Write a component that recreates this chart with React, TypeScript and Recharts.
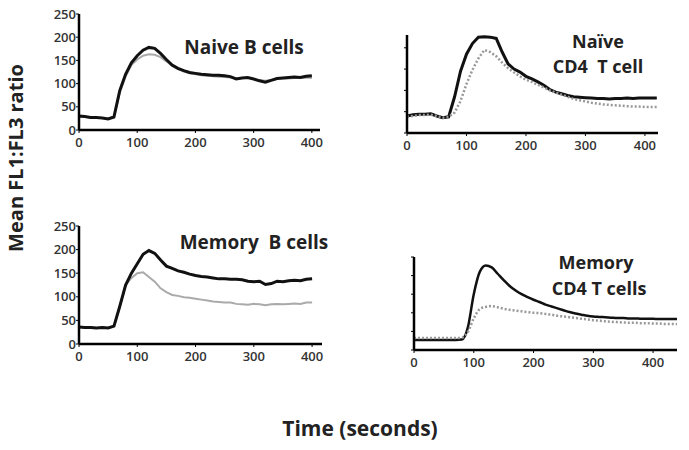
import { CartesianGrid, Line, LineChart, XAxis, YAxis } from "recharts";

// time points (seconds)
const times400 = [
  0, 10, 20, 30, 40, 50, 60, 70, 80, 90, 100, 110, 120, 130, 140, 150, 160, 170, 180, 190, 200,
  210, 220, 230, 240, 250, 260, 270, 280, 290, 300, 310, 320, 330, 340, 350, 360, 370, 380, 390, 400,
];
const times420 = [...times400, 410, 420];
const times440 = [...times420, 430, 440];

// Naive B cells
const naiveBDark = [
  30, 29, 27, 27, 26, 24, 28, 85, 120, 145, 160, 172, 178, 176, 165, 152, 140, 133, 128, 124, 122,
  120, 119, 118, 118, 117, 115, 110, 112, 113, 110, 106, 103, 107, 111, 112, 113, 114, 113, 116, 117,
];
const naiveBLight = [
  28, 28, 27, 26, 26, 25, 28, 80, 115, 140, 152, 160, 163, 162, 157, 148, 138, 131, 126, 122, 120,
  118, 117, 116, 115, 114, 113, 111, 112, 112, 110, 108, 106, 108, 110, 111, 111, 112, 112, 113, 112,
];

// Naive CD4 T cell
const naiveTDark = [
  40, 43, 44, 44, 45, 40, 36, 38, 85, 145, 185, 210, 225, 226, 225, 222, 190, 162, 150, 143, 133,
  127, 120, 112, 102, 96, 92, 88, 85, 84, 83, 82, 81, 81, 80, 81, 81, 82, 81, 82, 82, 82, 82,
];
const naiveTLight = [
  38, 40, 42, 42, 43, 40, 36, 38, 48, 75, 115, 148, 175, 195, 190, 180, 165, 152, 142, 133, 125,
  120, 113, 107, 100, 95, 90, 85, 80, 77, 74, 71, 69, 67, 66, 65, 64, 63, 62, 62, 61, 61, 61,
];

// Memory B cells
const memoryBDark = [
  36, 35, 35, 34, 35, 34, 38, 80, 125, 150, 170, 190, 198, 192, 178, 165, 160, 155, 152, 148, 145,
  143, 142, 140, 138, 138, 137, 137, 136, 133, 132, 133, 126, 128, 133, 132, 134, 135, 134, 137, 138,
];
const memoryBLight = [
  36, 35, 35, 34, 35, 34, 38, 78, 125, 140, 150, 152, 142, 132, 118, 110, 104, 102, 99, 98, 96,
  94, 92, 90, 89, 88, 88, 85, 84, 83, 85, 84, 82, 84, 85, 84, 85, 86, 85, 88, 88,
];

// Memory CD4 T cells
const memoryTDark = [
  27, 27, 27, 27, 27, 27, 27, 27, 28, 60, 150, 210, 227, 222, 205, 188, 172, 160, 150, 142, 135,
  129, 122, 117, 112, 107, 102, 98, 95, 92, 90, 89, 88, 87, 86, 86, 85, 85, 84, 84, 84, 83, 83, 83, 83,
];
const memoryTLight = [
  32, 32, 32, 32, 32, 32, 32, 32, 33, 48, 85, 110, 116, 118, 115, 111, 108, 106, 104, 102, 100,
  99, 97, 95, 92, 90, 88, 86, 84, 82, 80, 79, 77, 76, 75, 74, 73, 73, 72, 72, 71, 71, 70, 70, 70,
];

const xTicks = [0, 100, 200, 300, 400];
const yTicks = [0, 50, 100, 150, 200, 250];

const FONT = "'Open Sans', sans-serif";

type PanelProps = {
  left: number;
  top: number;
  width: number;
  height: number;
  xMax: number;
  yMax: number;
  times: number[];
  dark: number[];
  light: number[];
  showYLabels: boolean;
  dotted: boolean;
  smooth: boolean;
};

function Panel(props: PanelProps) {
  const { left, top, width, height, xMax, yMax, times, dark, light, showYLabels, dotted, smooth } = props;
  const data = times.map((t, i) => ({ t, dark: dark[i], light: light[i] }));
  const padL = 40;
  const padT = 10;
  const padR = 40;
  const padB = 30;
  const tickStyle = { fontSize: 13, fontWeight: 600, fill: "#333", fontFamily: FONT };

  const lightLine = (
    <Line
      dataKey="light"
      dot={false}
      isAnimationActive={false}
      stroke={dotted ? "#999" : "#aaa"}
      strokeDasharray={dotted ? "2 2" : undefined}
      strokeWidth={dotted ? 2.5 : 2}
      type={smooth ? "monotone" : "linear"}
    />
  );
  const darkLine = (
    <Line
      dataKey="dark"
      dot={false}
      isAnimationActive={false}
      stroke="#111"
      strokeWidth={smooth ? 2.5 : 3}
      type={smooth ? "monotone" : "linear"}
    />
  );

  return (
    <div style={{ position: "absolute", left: left - padL, top: top - padT }}>
      <LineChart
        data={data}
        height={height + padT + padB}
        margin={{ top: padT, right: padR, bottom: 0, left: 0 }}
        style={{ overflow: "visible" }}
        width={width + padL + padR}
      >
        <CartesianGrid stroke="none" />
        <XAxis
          allowDataOverflow
          axisLine={{ stroke: "#000", strokeWidth: 2.5 }}
          dataKey="t"
          domain={[0, xMax]}
          height={padB}
          interval={0}
          tick={tickStyle}
          tickLine={{ stroke: "#000" }}
          tickMargin={5}
          tickSize={3}
          ticks={xTicks}
          type="number"
        />
        <YAxis
          allowDataOverflow
          axisLine={{ stroke: "#000", strokeWidth: 2.5 }}
          domain={[0, yMax]}
          interval={0}
          tick={tickStyle}
          tickFormatter={(v) => (showYLabels ? String(v) : "")}
          tickLine={{ stroke: "#000" }}
          tickMargin={0}
          tickSize={3}
          ticks={yTicks.filter((v) => v <= yMax)}
          type="number"
          width={padL}
        />
        {dotted ? darkLine : lightLine}
        {dotted ? lightLine : darkLine}
      </LineChart>
    </div>
  );
}

const titleStyle = {
  position: "absolute" as const,
  transform: "translate(-50%, -50%)",
  fontFamily: FONT,
  fontWeight: 700,
  fontSize: 19,
  lineHeight: 1,
  whiteSpace: "pre" as const,
  color: "#222",
};

export default function App() {
  return (
    <div
      style={{
        position: "absolute",
        left: 0,
        top: 0,
        width: 689,
        height: 450,
        background: "#fff",
        overflow: "hidden",
      }}
    >
      <Panel
        dark={naiveBDark}
        dotted={false}
        height={116}
        left={79}
        light={naiveBLight}
        showYLabels
        smooth={false}
        times={times400}
        top={14}
        width={241}
        xMax={414}
        yMax={250}
      />
      <Panel
        dark={naiveTDark}
        dotted
        height={98}
        left={407}
        light={naiveTLight}
        showYLabels={false}
        smooth={false}
        times={times420}
        top={35}
        width={251}
        xMax={422}
        yMax={230}
      />
      <Panel
        dark={memoryBDark}
        dotted={false}
        height={118}
        left={79}
        light={memoryBLight}
        showYLabels
        smooth={false}
        times={times400}
        top={226}
        width={243}
        xMax={417}
        yMax={250}
      />
      <Panel
        dark={memoryTDark}
        dotted
        height={93}
        left={414}
        light={memoryTLight}
        showYLabels={false}
        smooth
        times={times440}
        top={257}
        width={263}
        xMax={440}
        yMax={250}
      />

      <div style={{ ...titleStyle, left: 244, top: 47 }}>Naive B cells</div>
      <div style={{ ...titleStyle, left: 598, top: 41, fontSize: 18 }}>Naïve</div>
      <div style={{ ...titleStyle, left: 598, top: 66, fontSize: 18 }}>CD4  T cell</div>
      <div style={{ ...titleStyle, left: 254, top: 242 }}>Memory  B cells</div>
      <div style={{ ...titleStyle, left: 596, top: 262, fontSize: 18 }}>Memory</div>
      <div style={{ ...titleStyle, left: 599, top: 288, fontSize: 18 }}>CD4 T cells</div>

      <div
        style={{
          ...titleStyle,
          left: 16,
          top: 158,
          fontSize: 20,
          transform: "translate(-50%, -50%) rotate(-90deg)",
        }}
      >
        Mean FL1:FL3 ratio
      </div>
      <div style={{ ...titleStyle, left: 360, top: 428, fontSize: 21 }}>Time (seconds)</div>
    </div>
  );
}
